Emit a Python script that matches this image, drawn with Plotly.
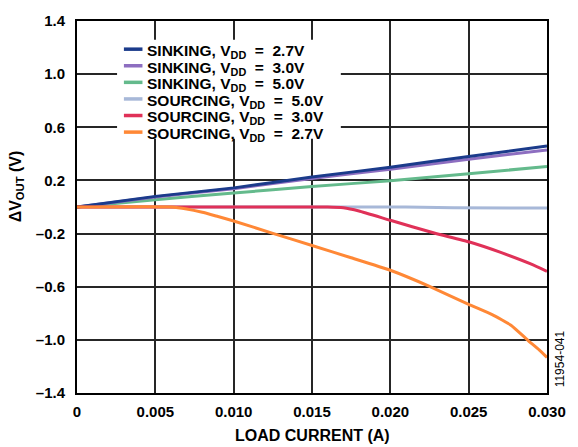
import plotly.graph_objects as go

# Load current (A) sample points and ΔVout (V) per series
x_sink = [0, 0.005, 0.010, 0.015, 0.020, 0.025, 0.030]
sink_27 = [0, 0.080, 0.144, 0.225, 0.300, 0.380, 0.460]
sink_30 = [0, 0.075, 0.138, 0.215, 0.285, 0.360, 0.430]
sink_50 = [0, 0.055, 0.105, 0.154, 0.198, 0.250, 0.305]

x_src50 = [0, 0.010, 0.020, 0.022, 0.024, 0.030]
src_50 = [0, 0, 0, -0.002, -0.006, -0.008]

x_src30 = [0, 0.010, 0.016, 0.017, 0.018, 0.020, 0.0228, 0.025, 0.027, 0.029, 0.030]
src_30 = [0, 0, 0, -0.006, -0.030, -0.100, -0.196, -0.262, -0.340, -0.430, -0.484]

x_src27 = [0, 0.006, 0.007, 0.008, 0.009, 0.010, 0.0125, 0.015, 0.0175, 0.020,
           0.0225, 0.025, 0.0265, 0.0277, 0.0288, 0.0295, 0.030]
src_27 = [0, 0, -0.015, -0.040, -0.072, -0.105, -0.198, -0.290, -0.382, -0.476,
          -0.597, -0.733, -0.810, -0.890, -1.005, -1.075, -1.132]

names = [
    "SINKING, V<sub>DD</sub>\u00a0 =\u00a0 2.7V",
    "SINKING, V<sub>DD</sub>\u00a0 =\u00a0 3.0V",
    "SINKING, V<sub>DD</sub>\u00a0 =\u00a0 5.0V",
    "SOURCING, V<sub>DD</sub>\u00a0 =\u00a0 5.0V",
    "SOURCING, V<sub>DD</sub>\u00a0 =\u00a0 3.0V",
    "SOURCING, V<sub>DD</sub>\u00a0 =\u00a0 2.7V",
]
colors = ["#1b3b8b", "#8d6ec0", "#64ba8c", "#a7b8d8", "#e03158", "#ff8836"]

x_ticks = [0, 0.005, 0.010, 0.015, 0.020, 0.025, 0.030]
x_ticktext = ["0", "0.005", "0.010", "0.015", "0.020", "0.025", "0.030"]
y_ticks = [1.4, 1.0, 0.6, 0.2, -0.2, -0.6, -1.0, -1.4]
y_ticktext = ["1.4", "1.0", "0.6", "0.2", "–0.2", "–0.6", "–1.0", "–1.4"]

series = [
    (x_sink, sink_27), (x_sink, sink_30), (x_sink, sink_50),
    (x_src50, src_50), (x_src30, src_30), (x_src27, src_27),
]

FONT = "Arial, Liberation Sans, Helvetica, sans-serif"
W, H = 578, 447
ML, MR, MT, MB = 77, 20, 14, 54
PW, PH = W - ML - MR, H - MT - MB


def px_x(px):
    return (px - ML) / PW


def px_y(py):
    return (H - MB - py) / PH


fig = go.Figure()
order = [3, 2, 1, 0, 4, 5]
for i in order:
    xs, ys = series[i]
    fig.add_trace(go.Scatter(
        x=xs, y=ys, mode="lines", name=names[i], showlegend=False,
        line=dict(color=colors[i], width=3, shape="spline", smoothing=0.35),
    ))

fig.update_layout(
    width=W, height=H,
    margin=dict(l=ML, r=MR, t=MT, b=MB),
    paper_bgcolor="white", plot_bgcolor="white",
    font=dict(family=FONT, size=15, color="black"),
    showlegend=False,
)
axis_common = dict(
    showgrid=True, gridcolor="#262626", gridwidth=1.5,
    showline=True, linecolor="black", linewidth=2, mirror=True,
    zeroline=False, ticks="",
    tickfont=dict(family=FONT, size=15, color="black", weight="bold"),
)
fig.update_xaxes(range=[0, 0.030], tickvals=x_ticks, ticktext=x_ticktext,
                 ticklabelstandoff=4, **axis_common)
fig.update_yaxes(range=[-1.4, 1.4], tickvals=y_ticks, ticktext=y_ticktext,
                 ticklabelstandoff=7, **axis_common)

# legend (drawn manually to match the compact row spacing)
fig.add_shape(type="rect", xref="paper", yref="paper",
              x0=px_x(118), x1=px_x(347), y0=px_y(134), y1=px_y(33),
              fillcolor="white", line=dict(width=0), layer="above")
row_y = [42.7, 59.6, 76.5, 93.4, 110.3, 127.2]
for k in range(6):
    fig.add_shape(type="line", xref="paper", yref="paper",
                  x0=px_x(125), x1=px_x(144), y0=px_y(row_y[k]), y1=px_y(row_y[k]),
                  line=dict(color=colors[k], width=3.5), layer="above")
    fig.add_annotation(
        text=names[k], xref="paper", yref="paper",
        x=px_x(147), y=px_y(row_y[k] + 2.5), xanchor="left", yanchor="middle",
        showarrow=False,
        font=dict(family=FONT, size=15.5, color="black", weight="bold"),
    )

fig.add_annotation(
    text="LOAD CURRENT (A)", xref="paper", yref="paper",
    x=0.5, y=px_y(436), xanchor="center", yanchor="middle", showarrow=False,
    font=dict(family=FONT, size=16, color="black", weight="bold"),
)
fig.add_annotation(
    text="ΔV<sub>OUT</sub> (V)", xref="paper", yref="paper",
    x=px_x(15), y=px_y(182), xanchor="center", yanchor="middle", showarrow=False,
    textangle=-90,
    font=dict(family=FONT, size=16, color="black", weight="bold"),
)
fig.add_annotation(
    text="11954-041", xref="paper", yref="paper",
    x=px_x(571), y=px_y(358), xanchor="center", yanchor="middle", showarrow=False,
    textangle=-90,
    font=dict(family=FONT, size=12, color="black"),
)

fig.write_html("out.html", config={"displayModeBar": False},
               post_script="document.body.style.margin='0';")
